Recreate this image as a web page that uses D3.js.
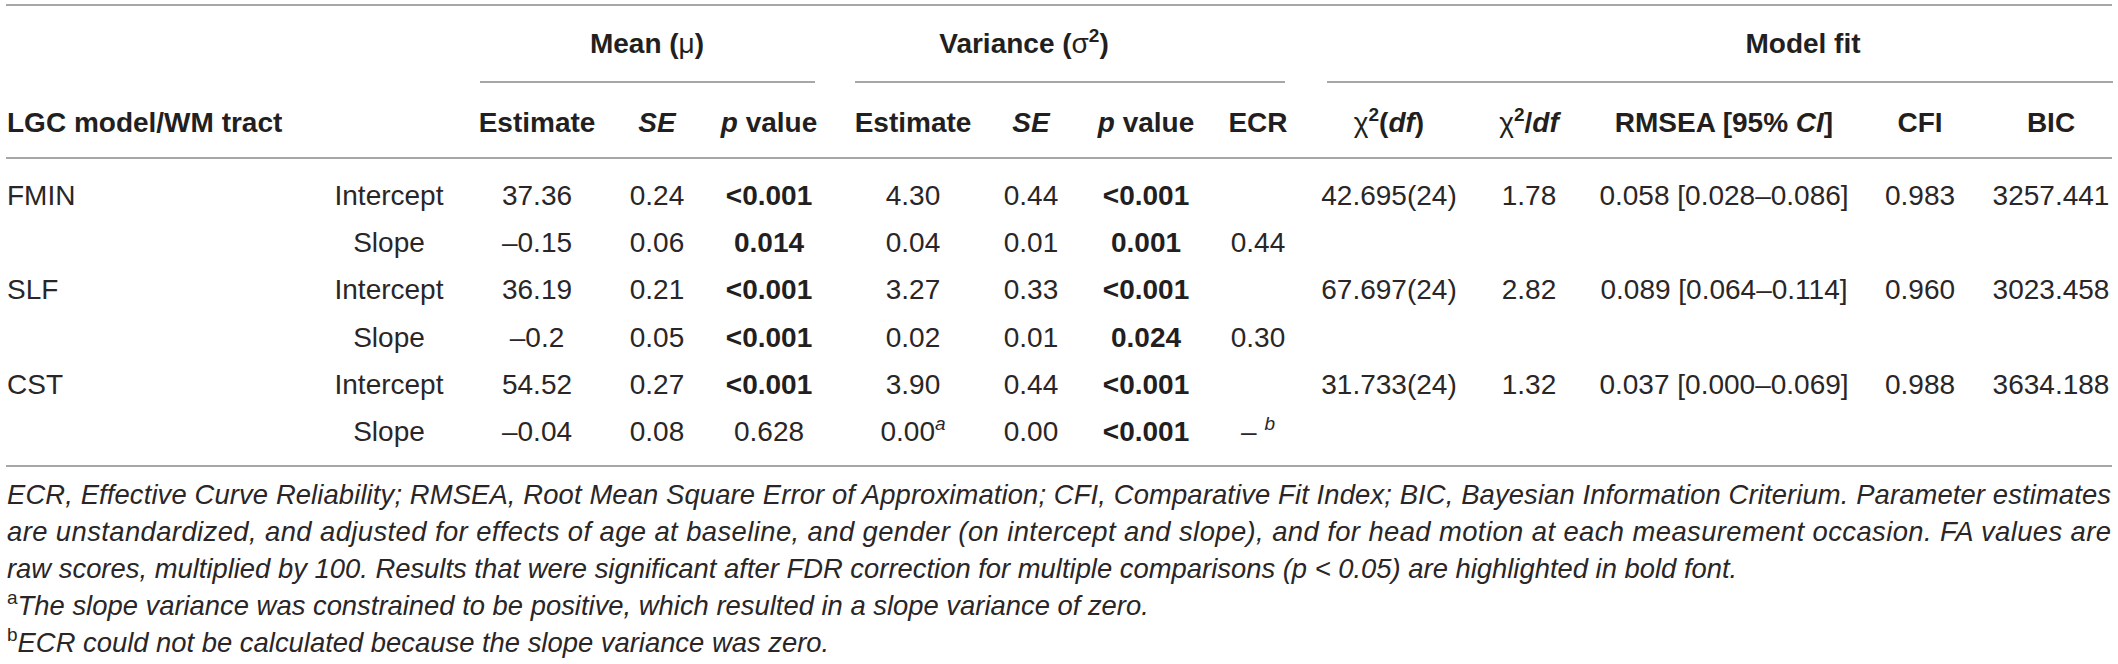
<!DOCTYPE html>
<html>
<head>
<meta charset="utf-8">
<script src="https://cdn.jsdelivr.net/npm/d3@7"></script>
<style>
  html, body { margin: 0; padding: 0; background: #fff; }
  svg { display: block; }
  text { font-family: "Liberation Sans", Arial, sans-serif; fill: #2a2627; font-size: 28px; }
  .hd { font-weight: bold; fill: #231f20; }
  .rule { stroke: #8a8a8a; stroke-width: 1.6; }
  .note { font-style: italic; font-size: 27.4px; }
</style>
</head>
<body>
<svg id="tbl"></svg>
<script>
// --- table content ---------------------------------------------------------
// markup: *x* italic, ^x^ superscript, _x_ normal weight
const groups = ['Mean (_μ_)', 'Variance (_σ_^2^)', 'Model fit'];
const colKeys = ['mEst', 'mSE', 'mP', 'vEst', 'vSE', 'vP', 'ecr', 'chi', 'chiDf', 'rmsea', 'cfi', 'bic'];
const colHeads = ['Estimate', '*SE*', '*p* value', 'Estimate', '*SE*', '*p* value', 'ECR',
  '_χ_^2^(*df*)', '_χ_^2^/*df*', 'RMSEA [95% *CI*]', 'CFI', 'BIC'];

const tracts = ['FMIN', '', 'SLF', '', 'CST', ''];
const params = ['Intercept', 'Slope', 'Intercept', 'Slope', 'Intercept', 'Slope'];
const meanEst = ['37.36', '–0.15', '36.19', '–0.2', '54.52', '–0.04'];
const meanSE = ['0.24', '0.06', '0.21', '0.05', '0.27', '0.08'];
const meanP = ['<0.001', '0.014', '<0.001', '<0.001', '<0.001', '0.628'];
const varEst = ['4.30', '0.04', '3.27', '0.02', '3.90', '0.00^*a*^'];
const varSE = ['0.44', '0.01', '0.33', '0.01', '0.44', '0.00'];
const varP = ['<0.001', '0.001', '<0.001', '0.024', '<0.001', '<0.001'];
const ecr = ['', '0.44', '', '0.30', '', '– ^*b*^'];
const chi2 = ['42.695(24)', '', '67.697(24)', '', '31.733(24)', ''];
const chi2Df = ['1.78', '', '2.82', '', '1.32', ''];
const rmsea = ['0.058 [0.028–0.086]', '', '0.089 [0.064–0.114]', '', '0.037 [0.000–0.069]', ''];
const cfi = ['0.983', '', '0.960', '', '0.988', ''];
const bic = ['3257.441', '', '3023.458', '', '3634.188', ''];

const notes = [
  'ECR, Effective Curve Reliability; RMSEA, Root Mean Square Error of Approximation; CFI, Comparative Fit Index; BIC, Bayesian Information Criterium. Parameter estimates',
  'are unstandardized, and adjusted for effects of age at baseline, and gender (on intercept and slope), and for head motion at each measurement occasion. FA values are',
  'raw scores, multiplied by 100. Results that were significant after FDR correction for multiple comparisons (p < 0.05) are highlighted in bold font.',
  '^a^The slope variance was constrained to be positive, which resulted in a slope variance of zero.',
  '^b^ECR could not be calculated because the slope variance was zero.'
];

// --- layout -----------------------------------------------------------------
const W = 2118, H = 664;
const svg = d3.select('#tbl').attr('width', W).attr('height', H);

const x = d3.scaleOrdinal()
  .domain(['tract', 'param', ...colKeys])
  .range([7, 389, 537, 657, 769, 913, 1031, 1146, 1258, 1389, 1529, 1724, 1920, 2051]);
const rowY = d3.scalePoint().domain(d3.range(params.length)).range([205, 441]);
const noteY = d3.scalePoint().domain(d3.range(notes.length)).range([504, 652]);

const groupSpan = [[480, 815, 647], [855, 1285, 1024], [1327, 2113, 1803]];

// parse the tiny markup into styled pieces
function pieces(s) {
  const out = [];
  let it = false, sup = false, nw = false, buf = '';
  const flush = () => { if (buf) out.push({ t: buf, it, sup, nw }); buf = ''; };
  for (const ch of s) {
    if (ch === '*') { flush(); it = !it; }
    else if (ch === '^') { flush(); sup = !sup; }
    else if (ch === '_') { flush(); nw = !nw; }
    else buf += ch;
  }
  flush();
  return out;
}

function cell(g, str, px, py, anchor, cls) {
  const t = g.append('text').attr('x', px).attr('y', py)
    .attr('text-anchor', anchor).attr('class', cls || null);
  let up = false;
  pieces(str).forEach(p => {
    const ts = t.append('tspan').text(p.t);
    if (p.it) ts.style('font-style', 'italic');
    if (p.nw) ts.style('font-weight', 'normal');
    if (p.sup && !up) { ts.attr('dy', -11).style('font-size', '19px'); up = true; }
    else if (p.sup) ts.style('font-size', '19px');
    else if (up) { ts.attr('dy', 11); up = false; }
  });
  return t;
}

const rules = svg.append('g');
[5, 158, 466].forEach(y => rules.append('line').attr('class', 'rule')
  .attr('x1', 6).attr('x2', 2112).attr('y1', y).attr('y2', y));
groupSpan.forEach(s => rules.append('line').attr('class', 'rule')
  .attr('x1', s[0]).attr('x2', s[1]).attr('y1', 82).attr('y2', 82));

// header
const gHead = svg.append('g');
groups.forEach((g, i) => cell(gHead, g, groupSpan[i][2], 53, 'middle', 'hd'));
cell(gHead, 'LGC model/WM tract', x('tract'), 132, 'start', 'hd');
colKeys.forEach((k, i) => cell(gHead, colHeads[i], x(k), 132, 'middle', 'hd'));

// body
const cols = { mEst: meanEst, mSE: meanSE, mP: meanP, vEst: varEst, vSE: varSE, vP: varP,
  ecr, chi: chi2, chiDf: chi2Df, rmsea, cfi, bic };
const isSig = v => { const n = parseFloat(v.replace('<', '')); return !isNaN(n) && n < 0.05; };

const gBody = svg.append('g');
params.forEach((p, r) => {
  const y = rowY(r);
  if (tracts[r]) cell(gBody, tracts[r], x('tract'), y, 'start');
  cell(gBody, p, x('param'), y, 'middle');
  colKeys.forEach(k => {
    const v = cols[k][r];
    if (!v) return;
    const bold = (k === 'mP' || k === 'vP') && isSig(v);
    cell(gBody, v, x(k), y, 'middle', bold ? 'hd' : null);
  });
});

// notes: the first two lines are justified to the table width
const gNote = svg.append('g');
notes.forEach((n, i) => {
  const t = cell(gNote, n, 7, noteY(i), 'start', 'note');
  if (i < 2) t.attr('textLength', 2104).attr('lengthAdjust', 'spacing');
});
// superscript footnote letters are upright
gNote.selectAll('tspan').filter(function () { return this.style.fontSize; })
  .style('font-style', 'normal');
</script>
</body>
</html>
